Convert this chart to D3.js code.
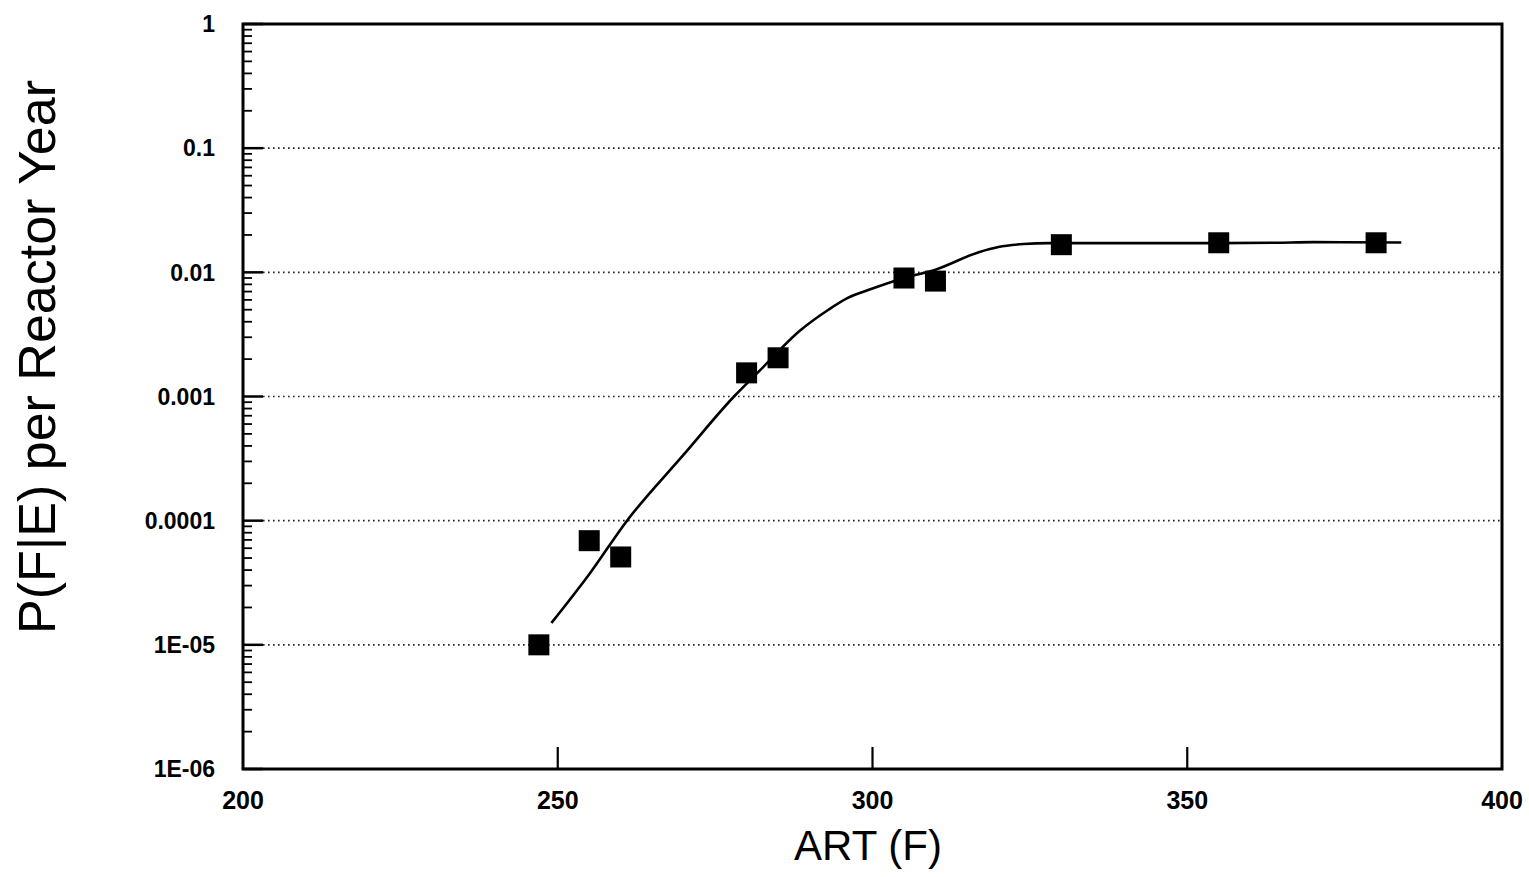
<!DOCTYPE html>
<html>
<head>
<meta charset="utf-8">
<script src="https://cdn.jsdelivr.net/npm/d3@7"></script>
<style>
  html, body { margin: 0; padding: 0; background: #fff; }
  svg { display: block; }
  text { font-family: "Liberation Sans", Arial, Helvetica, sans-serif; fill: #000; }
</style>
</head>
<body>
<svg id="chart" width="1529" height="877"></svg>
<script>
// ---- data ----
const pointX = [247, 255, 260, 280, 285, 305, 310, 330, 355, 380];
const pointY = [1.0e-5, 6.9e-5, 5.1e-5, 1.55e-3, 2.05e-3, 9.0e-3, 8.5e-3, 0.0167, 0.0173, 0.0173];

const curveX = [249, 255, 261, 270, 278, 282, 288.5, 293, 296, 300, 305, 310, 317, 320, 324, 328, 340, 355, 364, 370, 384];
const curveY = [1.5e-5, 3.7e-5, 1.0e-4, 3.4e-4, 1.0e-3, 1.6e-3, 3.4e-3, 5.0e-3, 6.2e-3, 7.4e-3, 9.0e-3, 1.05e-2, 1.46e-2, 1.6e-2, 1.69e-2, 1.72e-2, 1.72e-2, 1.72e-2, 1.73e-2, 1.75e-2, 1.74e-2];

const xTicks = [200, 250, 300, 350, 400];
const yTicks = [1, 0.1, 0.01, 0.001, 0.0001, 1e-5, 1e-6];
const yTickLabels = ["1", "0.1", "0.01", "0.001", "0.0001", "1E-05", "1E-06"];
const gridValues = [0.1, 0.01, 0.001, 0.0001, 1e-5];

const xTitle = "ART (F)";
const yTitle = "P(F|E) per Reactor Year";

// ---- layout ----
const svg = d3.select("#chart");
const pLeft = 243, pTop = 24, pRight = 1502, pBottom = 769;

const x = d3.scaleLinear().domain([200, 400]).range([pLeft, pRight]);
const y = d3.scaleLog().domain([1e-6, 1]).range([pBottom, pTop]);

// grid lines (dotted)
svg.append("g").selectAll("line").data(gridValues).join("line")
  .attr("x1", pLeft + 20).attr("x2", pRight)
  .attr("y1", d => y(d)).attr("y2", d => y(d))
  .attr("stroke", "#222").attr("stroke-width", 1.6)
  .attr("stroke-dasharray", "1.6,3.4");

// minor y ticks (inward)
const minor = [];
for (let e = -6; e < 0; e++) for (let m = 2; m <= 9; m++) minor.push(m * Math.pow(10, e));
svg.append("g").selectAll("line").data(minor).join("line")
  .attr("x1", pLeft).attr("x2", pLeft + 9)
  .attr("y1", d => y(d)).attr("y2", d => y(d))
  .attr("stroke", "#000").attr("stroke-width", 1.8);

// major y ticks
svg.append("g").selectAll("line").data(yTicks).join("line")
  .attr("x1", pLeft).attr("x2", pLeft + 20)
  .attr("y1", d => y(d)).attr("y2", d => y(d))
  .attr("stroke", "#000").attr("stroke-width", 2.5);

// major x ticks (inward, up)
svg.append("g").selectAll("line").data(xTicks.slice(1, -1)).join("line")
  .attr("x1", d => x(d)).attr("x2", d => x(d))
  .attr("y1", pBottom).attr("y2", pBottom - 22)
  .attr("stroke", "#000").attr("stroke-width", 2.2);

// frame
svg.append("rect")
  .attr("x", pLeft).attr("y", pTop)
  .attr("width", pRight - pLeft).attr("height", pBottom - pTop)
  .attr("fill", "none").attr("stroke", "#000").attr("stroke-width", 3);

// y tick labels
svg.append("g").selectAll("text").data(yTicks).join("text")
  .attr("x", 215).attr("y", d => y(d))
  .attr("dy", "0.36em")
  .attr("text-anchor", "end")
  .attr("font-size", 23)
  .attr("font-weight", "bold")
  .text((d, i) => yTickLabels[i]);

// x tick labels
svg.append("g").selectAll("text").data(xTicks).join("text")
  .attr("x", d => x(d)).attr("y", 809)
  .attr("text-anchor", "middle")
  .attr("font-size", 25)
  .attr("font-weight", "bold")
  .text(d => d);

// curve
const line = d3.line()
  .x((d, i) => x(curveX[i]))
  .y((d, i) => y(curveY[i]))
  .curve(d3.curveMonotoneX);
svg.append("path")
  .datum(curveX)
  .attr("d", line)
  .attr("fill", "none")
  .attr("stroke", "#000")
  .attr("stroke-width", 2.6);

// markers
const s = 21;
svg.append("g").selectAll("rect").data(pointX).join("rect")
  .attr("x", (d) => x(d) - s / 2)
  .attr("y", (d, i) => y(pointY[i]) - s / 2)
  .attr("width", s).attr("height", s)
  .attr("fill", "#000");

// axis titles
svg.append("text")
  .attr("x", 868).attr("y", 860)
  .attr("text-anchor", "middle")
  .attr("font-size", 42)
  .text(xTitle);

svg.append("text")
  .attr("transform", "translate(55,357) rotate(-90)")
  .attr("text-anchor", "middle")
  .attr("font-size", 52)
  .text(yTitle);
</script>
</body>
</html>
